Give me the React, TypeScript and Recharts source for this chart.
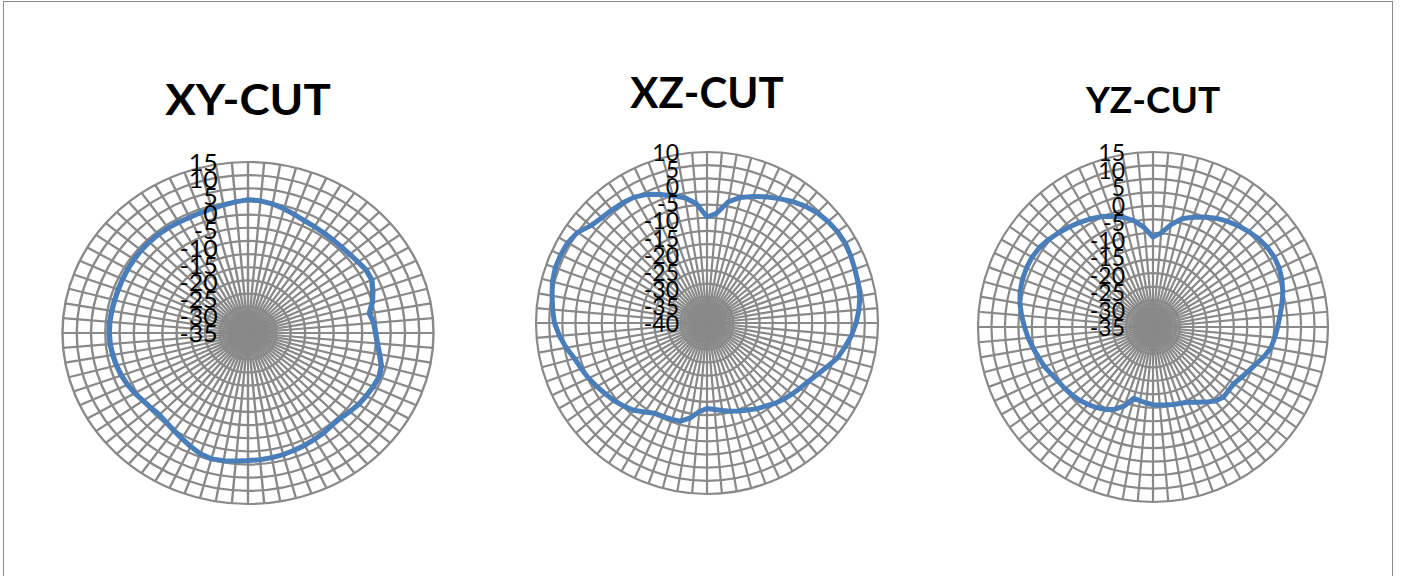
import React from "react";
import { PolarAngleAxis, PolarGrid, PolarRadiusAxis, Radar, RadarChart } from "recharts";

// angle in degrees, measured clockwise from the top (Excel radar order)
const angles = [
  0, 5, 10, 15, 20, 25, 30, 35, 40, 45, 50, 55, 60, 65, 70, 75, 80, 85,
  90, 95, 100, 105, 110, 115, 120, 125, 130, 135, 140, 145, 150, 155, 160, 165, 170, 175,
  180, 185, 190, 195, 200, 205, 210, 215, 220, 225, 230, 235, 240, 245, 250, 255, 260, 265,
  270, 275, 280, 285, 290, 295, 300, 305, 310, 315, 320, 325, 330, 335, 340, 345, 350, 355,
];

// gain (dB) per angle
const xyCut = [
  4.0, 3.8, 3.3, 2.6, 1.8, 1.2, 0.9, 0.7, 0.6, 0.6, 0.8, 1.2, 1.8, 1.8, 0.8, -0.3, -1.8, -1.0,
  -0.6, 0.0, 1.0, 2.2, 2.6, 2.2, 1.8, 1.4, 0.8, 0.2, 0.2, 0.6, 0.9, 1.2, 1.5, 1.8, 2.0, 2.2,
  2.3, 2.6, 2.9, 3.1, 2.6, 1.6, 0.6, -0.2, -0.8, -1.2, -0.9, -0.5, 0.2, 0.8, 1.3, 1.7, 2.0, 2.3,
  2.4, 2.4, 2.3, 2.2, 2.2, 2.3, 2.4, 2.5, 2.6, 2.6, 2.6, 2.5, 2.4, 2.3, 2.4, 2.6, 3.0, 3.5,
];
const xzCut = [
  -9.0, -7.8, -4.0, -2.0, -0.6, 0.7, 2.0, 3.4, 4.6, 5.6, 6.2, 6.6, 6.7, 6.4, 6.0, 5.7, 5.4, 4.6,
  3.6, 2.4, 0.9, -0.5, -2.6, -4.4, -5.8, -6.8, -7.6, -8.4, -9.3, -10.3, -11.0, -11.9, -12.6, -13.3, -14.0, -14.6,
  -15.0, -14.0, -11.8, -10.3, -10.0, -9.8, -9.5, -8.2, -6.7, -5.6, -4.6, -3.8, -2.8, -1.8, -0.9, 0.1, 1.8, 3.3,
  4.6, 5.3, 6.0, 6.8, 7.2, 7.2, 7.0, 6.2, 4.3, 3.5, 3.2, 2.9, 2.5, 1.5, 0.0, -1.5, -2.8, -5.0,
];
const yzCut = [
  -9.3, -8.0, -5.3, -3.0, -1.6, -0.3, 0.9, 1.9, 2.8, 3.6, 4.3, 4.8, 5.0, 4.8, 4.2, 3.4, 2.4, 1.4,
  0.6, -0.1, -0.8, -2.2, -3.8, -5.0, -6.0, -6.8, -6.8, -6.6, -7.4, -8.8, -10.2, -11.3, -11.8, -12.1, -12.4, -12.6,
  -12.8, -13.2, -13.6, -13.9, -11.0, -9.0, -7.8, -6.9, -6.1, -5.4, -4.8, -4.3, -3.8, -3.0, -2.0, -1.2, -0.2, 0.8,
  1.7, 2.7, 3.6, 4.3, 4.7, 4.9, 4.9, 4.6, 3.9, 3.1, 2.3, 1.5, 0.7, -0.2, -1.3, -2.6, -4.2, -6.5,
];

const xyTicks = [15, 10, 5, 0, -5, -10, -15, -20, -25, -30, -35];
const xzTicks = [10, 5, 0, -5, -10, -15, -20, -25, -30, -35, -40];
const yzTicks = [15, 10, 5, 0, -5, -10, -15, -20, -25, -30, -35];

const titles = ["XY-CUT", "XZ-CUT", "YZ-CUT"];

const GRID = "#898989";
const LINE = "#4a7ebb";
const FONT = "Lato, 'Open Sans', sans-serif";
const RINGS = 13;

type PanelProps = {
  title: string;
  values: number[];
  ticks: number[];
  left: number;
  top: number;
  radius: number;
  stretch: number;
  titleTop: number;
  titleSize: number;
};

function CutPanel({ title, values, ticks, left, top, radius, stretch, titleTop, titleSize }: PanelProps) {
  const data = angles.map((a, i) => ({ angle: a, v: values[i] }));
  const lo = Math.min(...ticks);
  const hi = Math.max(...ticks);
  // Excel draws the rings a bit tighter than the labelled 5 dB steps
  const rings = Array.from({ length: RINGS }, (_, k) => (radius * (k + 1)) / RINGS);
  const size = 400;

  return (
    <div
      style={{
        position: "absolute",
        left,
        top: 0,
        width: size,
        height: 560,
        transform: `scaleX(${stretch})`,
        transformOrigin: "50% 50%",
      }}
    >
      <div
        style={{
          position: "absolute",
          top: titleTop,
          width: size,
          textAlign: "center",
          fontFamily: FONT,
          fontWeight: 700,
          fontSize: titleSize,
          lineHeight: 1,
          color: "#000",
        }}
      >
        {title}
      </div>
      <div style={{ position: "absolute", left: 0, top }}>
        <RadarChart
          width={size}
          height={size}
          cx={size / 2}
          cy={size / 2}
          outerRadius={radius}
          startAngle={90}
          endAngle={-270}
          data={data}
          margin={{ top: 0, right: 0, bottom: 0, left: 0 }}
        >
          <PolarGrid gridType="circle" polarRadius={rings} stroke={GRID} strokeWidth={2.2} strokeOpacity={1} />
          <PolarAngleAxis dataKey="angle" tick={false} tickLine={false} axisLine={false} />
          <Radar
            dataKey="v"
            stroke={LINE}
            strokeWidth={5}
            strokeLinejoin="round"
            fill="none"
            fillOpacity={0}
            dot={false}
            isAnimationActive={false}
          />
          <PolarRadiusAxis
            angle={90}
            type="number"
            domain={[lo, hi]}
            ticks={ticks}
            axisLine={false}
            tickLine={false}
            tick={(p: any) => (
              <text
                x={p.x - 28}
                y={p.y}
                textAnchor="end"
                dominantBaseline="central"
                style={{ fontFamily: FONT, fontSize: 23 }}
                fill="#000"
              >
                {p.payload.value}
              </text>
            )}
          />
        </RadarChart>
      </div>
    </div>
  );
}

export default function App() {
  return (
    <div style={{ position: "absolute", left: 0, top: 0, width: 1404, height: 576, background: "#fff", overflow: "hidden" }}>
      <div
        style={{
          position: "absolute",
          left: 3,
          top: 1,
          width: 1388,
          height: 620,
          border: "1.5px solid #8a8a8a",
        }}
      />
      <CutPanel title={titles[0]} values={xyCut} ticks={xyTicks} left={48} top={133} radius={171} stretch={1.085} titleTop={78} titleSize={42} />
      <CutPanel title={titles[1]} values={xzCut} ticks={xzTicks} left={507} top={123} radius={171} stretch={1} titleTop={71} titleSize={42} />
      <CutPanel title={titles[2]} values={yzCut} ticks={yzTicks} left={953} top={127} radius={175} stretch={1} titleTop={80} titleSize={37} />
    </div>
  );
}
